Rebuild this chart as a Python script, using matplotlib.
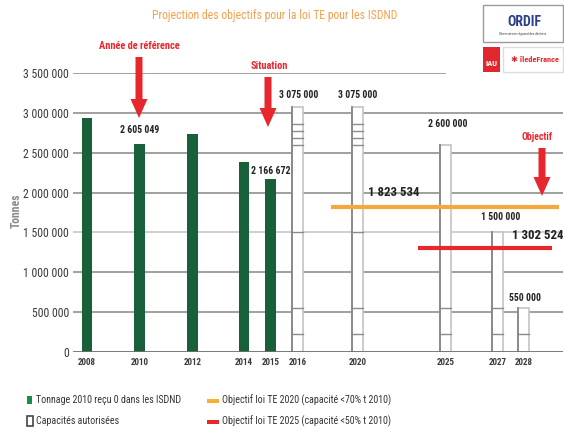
import matplotlib
matplotlib.use("Agg")
import matplotlib.pyplot as plt
from matplotlib import font_manager
from matplotlib.patches import Rectangle, FancyArrow

# ---------------- data ----------------
hist_years = ["2008", "2010", "2012", "2014", "2015"]
hist_tonnage = [2930000, 2605049, 2740000, 2380000, 2166672]
hist_labels = {"2010": "2 605 049", "2015": "2 166 672"}

cap_years = ["2016", "2020", "2025", "2027", "2028"]
# stacked authorised capacities (segments) per year
cap_segments = [
    [225000, 325000, 950000, 1100000, 80000, 90000, 90000, 215000],
    [225000, 325000, 950000, 1100000, 80000, 90000, 90000, 215000],
    [225000, 325000, 2050000],
    [225000, 325000, 950000],
    [225000, 325000],
]
cap_labels = ["3 075 000", "3 075 000", "2 600 000", "1 500 000", "550 000"]

obj_2020 = 1823534
obj_2025 = 1302524
obj_2020_label = "1 823 534"
obj_2025_label = "1 302 524"

yticks = [0, 500000, 1000000, 1500000, 2000000, 2500000, 3000000, 3500000]
ytick_labels = ["0", "500 000", "1 000 000", "1 500 000", "2 000 000",
                "2 500 000", "3 000 000", "3 500 000"]

# ---------------- layout (slot positions & label offsets in px) ----------------
hist_pos = [0.0, 2.0, 4.03, 5.99, 7.0]
cap_pos = [8.03, 10.34, 13.7, 15.68, 16.68]
cap_lab_dy = [12, 12, 21, 15, 10]
cap_lab_dx = [0.05, 0.0, 0.08, 0.1, 0.04]
PX = 3500000 / 279.0  # data units per pixel (vertical)

# ---------------- fonts ----------------
avail = {f.name for f in font_manager.fontManager.ttflist}
cond = "DejaVu Sans"
for name in ["Roboto Condensed", "DejaVu Sans Condensed", "Liberation Sans Narrow", "DejaVu Sans"]:
    if name in avail:
        cond = name
        break
plt.rcParams["font.family"] = [cond, "DejaVu Sans"]

W, H = 564, 432
fig = plt.figure(figsize=(W / 100, H / 100), dpi=100)
fig.patch.set_facecolor("white")

def px_axes(x0, y0, x1, y1):
    return fig.add_axes([x0 / W, 1 - y1 / H, (x1 - x0) / W, (y1 - y0) / H])

ax = px_axes(73, 73, 563, 352)
ax.set_xlim(-0.534, 18.17)
ax.set_ylim(0, 3500000)
for s in ax.spines.values():
    s.set_visible(False)
ax.set_facecolor("none")

# gridlines
for v in yticks[1:]:
    xmax = 0.76 if v == 3500000 else 1.0
    col = "#cfcfcf" if v == 1500000 else "#a0a0a0"
    ax.axhline(v, xmin=0, xmax=xmax, color=col, lw=1.4, zorder=0)
ax.axhline(0, color="#6e6e6e", lw=2.0, zorder=5)

ax.set_yticks(yticks)
ax.set_yticklabels(ytick_labels, fontsize=8.5, color="#3a3a3a")
ax.tick_params(axis="y", length=0, pad=3)
ax.set_xticks(hist_pos + cap_pos)
ax.set_xticklabels(hist_years + cap_years, fontsize=6.5, color="#3a3a3a",
                   fontweight="bold")
ax.tick_params(axis="x", length=0, pad=4)

# green bars
ax.bar(hist_pos, hist_tonnage, width=0.41, color="#17603a", zorder=3)
for x, y, yr in zip(hist_pos, hist_tonnage, hist_years):
    if yr in hist_labels:
        dy = 14 if yr == "2010" else 8
        ax.text(x, y + dy * PX, hist_labels[yr], ha="center", va="center",
                fontsize=7, fontweight="bold", color="#222222", zorder=6)

# hollow capacity bars
bw = 0.42
for x, segs, lab, dy, dx in zip(cap_pos, cap_segments, cap_labels, cap_lab_dy, cap_lab_dx):
    total = sum(segs)
    ax.bar([x], [total], width=bw, facecolor="white", edgecolor="#c4c4c4",
           lw=1.2, zorder=3)
    ax.plot([x - bw / 2, x - bw / 2], [0, total], color="#808080", lw=1.2, zorder=4)
    acc = 0
    for s in segs[:-1]:
        acc += s
        ax.plot([x - bw / 2, x + bw / 2], [acc, acc], color="#8a8a8a", lw=1.0, zorder=4)
    ax.text(x + dx, total + dy * PX, lab, ha="center", va="center", fontsize=7,
            fontweight="bold", color="#222222", zorder=6)

# objective lines
ax.plot([9.31, 18.02], [obj_2020, obj_2020], color="#f7a83c", lw=3, zorder=5,
        solid_capstyle="butt")
ax.plot([12.63, 17.75], [obj_2025, obj_2025], color="#e8262e", lw=3, zorder=5,
        solid_capstyle="butt")
ax.text(11.72, obj_2020 + 14 * PX, obj_2020_label, ha="center", va="center",
        fontsize=9.3, fontweight="bold", color="#222222", zorder=6)
ax.text(17.2, obj_2025 + 12.5 * PX, obj_2025_label, ha="center", va="center",
        fontsize=9.3, fontweight="bold", color="#222222", zorder=6)

# ---------------- overlay for decorations ----------------
ov = fig.add_axes([0, 0, 1, 1], zorder=10)
ov.set_xlim(0, W)
ov.set_ylim(H, 0)
ov.axis("off")
ov.patch.set_alpha(0)

ov.text(275, 15, "Projection des objectifs pour la loi TE pour les ISDND",
        ha="center", va="center", fontsize=8.5, color="#f5a04c")
ov.text(16, 211, "Tonnes", rotation=90, ha="center", va="center",
        fontsize=8.5, color="#8a8a8a", fontweight="bold")

red = "#e8262e"
def arrow(x, y0, y1):
    ov.add_patch(FancyArrow(x, y0, 0, (y1 - y0) - 0.001, width=7, head_width=17,
                            head_length=19, length_includes_head=True,
                            color=red, lw=0))

ov.text(139, 46, "Année de référence", ha="center", va="center", fontsize=7.5,
        color=red, fontweight="bold")
arrow(139, 57, 118)
ov.text(269, 66, "Situation", ha="center", va="center", fontsize=7.5,
        color=red, fontweight="bold")
arrow(268, 77, 127)
ov.text(537, 137, "Objectif", ha="center", va="center", fontsize=7,
        color=red, fontweight="bold")
arrow(542, 148, 196)

# logos
ov.add_patch(Rectangle((483, 5), 80, 37, facecolor="white", edgecolor="#9a9a9a", lw=1))
ov.text(524, 22, "ORDIF", ha="center", va="center", fontsize=10,
        color="#2b3f8c", fontweight="bold")
ov.text(523, 34, "Observatoire régional des déchets", ha="center", va="center",
        fontsize=2.5, color="#444444")
ov.add_patch(Rectangle((483, 47), 17, 25, facecolor="#e1262d", edgecolor="none"))
ov.text(491.5, 63, "IAU", ha="center", va="center", fontsize=6,
        color="white", fontweight="bold")
ov.add_patch(Rectangle((503, 47), 60, 25, facecolor="white", edgecolor="#dddddd", lw=1))
ov.text(535, 60, "✱ îledeFrance", ha="center", va="center", fontsize=6,
        color="#e1262d", fontweight="bold")

# legend
ov.add_patch(Rectangle((27, 396), 5, 8, facecolor="#1f8a45", edgecolor="none"))
ov.text(36, 400, "Tonnage 2010 reçu 0 dans les ISDND", ha="left", va="center",
        fontsize=7.2, color="#333333")
ov.add_patch(Rectangle((27, 416), 6, 10, facecolor="white", edgecolor="#444444", lw=1.2))
ov.text(36, 421, "Capacités autorisées", ha="left", va="center",
        fontsize=7.2, color="#333333")
ov.add_patch(Rectangle((207, 399), 12, 4, facecolor="#f7b030", edgecolor="none"))
ov.text(222, 400, "Objectif loi TE 2020 (capacité <70% t 2010)", ha="left",
        va="center", fontsize=7.2, color="#333333")
ov.add_patch(Rectangle((207, 420), 12, 4, facecolor="#e8262e", edgecolor="none"))
ov.text(222, 421, "Objectif loi TE 2025 (capacité <50% t 2010)", ha="left",
        va="center", fontsize=7.2, color="#333333")

fig.savefig("out.png", dpi=100, facecolor="white")
